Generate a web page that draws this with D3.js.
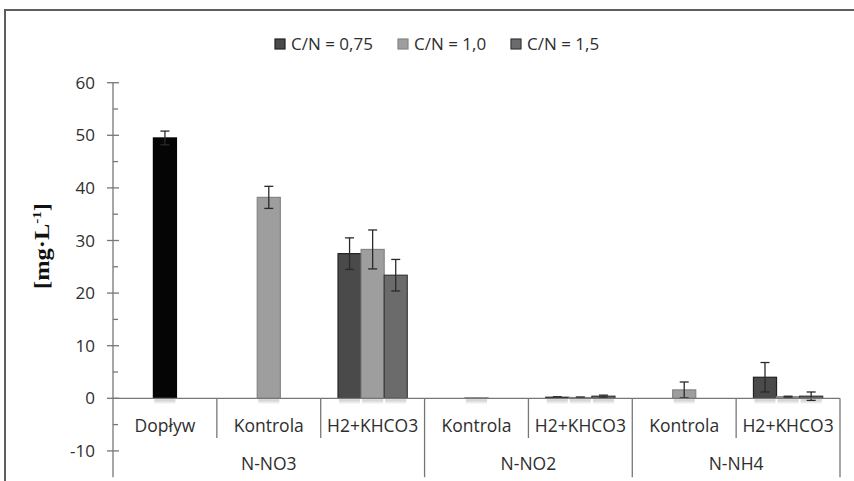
<!DOCTYPE html>
<html>
<head>
<meta charset="utf-8">
<script src="https://cdn.jsdelivr.net/npm/d3@7"></script>
<style>
  body { margin: 0; background: #fff; }
  text { font-family: "Open Sans", sans-serif; fill: #2e2e2e; }
</style>
</head>
<body>
<svg id="chart"></svg>
<script>
// data
const categories = ["Dopływ", "Kontrola", "H2+KHCO3", "Kontrola", "H2+KHCO3", "Kontrola", "H2+KHCO3"];
const groups = ["N-NO3", "N-NO2", "N-NH4"];
const groupSpans = [3, 2, 2];
const seriesNames = ["C/N = 0,75", "C/N = 1,0", "C/N = 1,5"];
const cn075 = [null, null, 27.5, null, 0.2, null, 4.0];
const cn10 = [49.5, 38.2, 28.3, 0.1, 0.15, 1.6, 0.3];
const cn15 = [null, null, 23.4, null, 0.4, null, 0.4];
const err075 = [null, null, 3.0, null, 0.1, null, 2.8];
const err10 = [1.3, 2.1, 3.7, 0, 0.1, 1.5, 0.1];
const err15 = [null, null, 3.0, null, 0.2, null, 0.8];
const yTicks = [-10, 0, 10, 20, 30, 40, 50, 60];
const yMinorTicks = [-5, 5, 15, 25, 35, 45, 55];

const width = 854;
const height = 481;
const fills = ["#4a4a4a", "#9e9e9e", "#6b6b6b"];
const strokes = ["#222222", "#858585", "#383838"];
const inflowFill = "#050505";

const svg = d3.select("#chart")
  .attr("width", width)
  .attr("height", height);

// outer frame
svg.append("rect")
  .attr("x", 5).attr("y", 10)
  .attr("width", 900).attr("height", 520)
  .attr("fill", "none")
  .attr("stroke", "#5e5e5e")
  .attr("stroke-width", 2);

// scales
const x0 = d3.scaleBand()
  .domain(d3.range(categories.length))
  .range([113, 840]);

const x1 = d3.scaleBand()
  .domain(d3.range(seriesNames.length))
  .range([0, x0.bandwidth()])
  .paddingInner(0)
  .paddingOuter(0.75);

const y = d3.scaleLinear()
  .domain([-15, 60])
  .range([477.2, 82.7]);

const seriesVals = [cn075, cn10, cn15];
const seriesErr = [err075, err10, err15];
const bars = [];
seriesVals.forEach((vals, s) => {
  vals.forEach((v, i) => {
    if (v !== null) bars.push({ s: s, i: i, v: v, e: seriesErr[s][i] });
  });
});

// soft reflection under the zero line
const refl = svg.append("defs").append("linearGradient")
  .attr("id", "refl")
  .attr("x1", 0).attr("x2", 0).attr("y1", 0).attr("y2", 1);
refl.append("stop").attr("offset", 0).attr("stop-color", "#c8c8c8");
refl.append("stop").attr("offset", 1).attr("stop-color", "#ffffff");

svg.append("g")
  .selectAll("rect")
  .data(bars)
  .join("rect")
  .attr("x", d => x0(d.i) + x1(d.s) + 1)
  .attr("y", y(0) + 1)
  .attr("width", x1.bandwidth() - 2)
  .attr("height", 5)
  .attr("fill", "url(#refl)");

// bars
svg.append("g")
  .selectAll("rect")
  .data(bars)
  .join("rect")
  .attr("x", d => x0(d.i) + x1(d.s))
  .attr("y", d => y(d.v))
  .attr("width", x1.bandwidth())
  .attr("height", d => y(0) - y(d.v))
  .attr("fill", d => d.i === 0 ? inflowFill : fills[d.s])
  .attr("stroke", d => d.i === 0 ? inflowFill : strokes[d.s])
  .attr("stroke-width", 1.2);

// error bars
const errG = svg.append("g")
  .attr("stroke", "#2a2a2a")
  .attr("stroke-width", 1.3);

const errBars = bars.filter(d => d.e > 0);
const cx = d => x0(d.i) + x1(d.s) + x1.bandwidth() / 2;

errG.selectAll(".stem")
  .data(errBars)
  .join("line")
  .attr("x1", cx).attr("x2", cx)
  .attr("y1", d => y(d.v + d.e))
  .attr("y2", d => y(d.v - d.e));

errG.selectAll(".capTop")
  .data(errBars)
  .join("line")
  .attr("x1", d => cx(d) - 4.5)
  .attr("x2", d => cx(d) + 4.5)
  .attr("y1", d => y(d.v + d.e))
  .attr("y2", d => y(d.v + d.e));

errG.selectAll(".capBottom")
  .data(errBars)
  .join("line")
  .attr("x1", d => cx(d) - 4.5)
  .attr("x2", d => cx(d) + 4.5)
  .attr("y1", d => y(d.v - d.e))
  .attr("y2", d => y(d.v - d.e));

// y axis
const axisColor = "#777777";
const yAxis = svg.append("g")
  .attr("transform", `translate(${x0.range()[0]},0)`);

yAxis.append("line")
  .attr("x1", 0).attr("x2", 0)
  .attr("y1", y(60)).attr("y2", y(-15))
  .attr("stroke", axisColor).attr("stroke-width", 1.3);

yAxis.selectAll(".major")
  .data(yTicks)
  .join("line")
  .attr("x1", -6).attr("x2", 6)
  .attr("y1", d => y(d)).attr("y2", d => y(d))
  .attr("stroke", axisColor).attr("stroke-width", 1.3);

yAxis.selectAll(".minor")
  .data(yMinorTicks)
  .join("line")
  .attr("x1", 0).attr("x2", 5)
  .attr("y1", d => y(d)).attr("y2", d => y(d))
  .attr("stroke", axisColor).attr("stroke-width", 1.3);

yAxis.selectAll("text")
  .data(yTicks)
  .join("text")
  .attr("x", -18)
  .attr("y", d => y(d))
  .attr("dy", "0.36em")
  .attr("text-anchor", "end")
  .style("font-size", "17px")
  .text(d => d);

// y axis title
svg.append("text")
  .attr("transform", `translate(49,246) rotate(-90)`)
  .attr("text-anchor", "middle")
  .attr("textLength", 86)
  .attr("lengthAdjust", "spacingAndGlyphs")
  .style("font-family", "'Liberation Serif', 'Times New Roman', serif")
  .style("font-weight", "bold")
  .style("font-size", "21px")
  .style("fill", "#111")
  .html("[mg·L<tspan dy='-8' font-size='13px'>-1</tspan><tspan dy='8'>]</tspan>");

// category axis
const xAxis = svg.append("g");
xAxis.append("line")
  .attr("x1", x0.range()[0]).attr("x2", x0.range()[1])
  .attr("y1", y(0)).attr("y2", y(0))
  .attr("stroke", axisColor).attr("stroke-width", 1.3);

// group boundaries
const groupStarts = [];
let acc = 0;
groupSpans.forEach(n => { groupStarts.push(acc); acc += n; });
const boundaryIdx = d3.range(1, categories.length + 1);
xAxis.selectAll(".divider")
  .data(boundaryIdx)
  .join("line")
  .attr("x1", d => d < categories.length ? x0(d) : x0.range()[1])
  .attr("x2", d => d < categories.length ? x0(d) : x0.range()[1])
  .attr("y1", y(0))
  .attr("y2", d => (groupStarts.includes(d) || d === categories.length) ? y(-15) : 438)
  .attr("stroke", axisColor).attr("stroke-width", 1.3);

xAxis.selectAll(".catLabel")
  .data(categories)
  .join("text")
  .attr("x", (d, i) => x0(i) + x0.bandwidth() / 2)
  .attr("y", 426)
  .attr("dy", "0.36em")
  .attr("text-anchor", "middle")
  .style("font-size", "17.5px")
  .text(d => d);

xAxis.selectAll(".groupLabel")
  .data(groups)
  .join("text")
  .attr("x", (d, g) => x0(groupStarts[g]) + groupSpans[g] * x0.bandwidth() / 2)
  .attr("y", 464)
  .attr("dy", "0.36em")
  .attr("text-anchor", "middle")
  .style("font-size", "17.5px")
  .text(d => d);

// legend
const legendX = [275, 398, 511];
const legend = svg.append("g")
  .selectAll("g")
  .data(seriesNames)
  .join("g")
  .attr("transform", (d, i) => `translate(${legendX[i]},44)`);

legend.append("rect")
  .attr("x", 0).attr("y", -5)
  .attr("width", 10).attr("height", 10)
  .attr("fill", (d, i) => fills[i])
  .attr("stroke", (d, i) => strokes[i])
  .attr("stroke-width", 1.2);

legend.append("text")
  .attr("x", 16)
  .attr("y", 0)
  .attr("dy", "0.36em")
  .style("font-size", "17px")
  .text(d => d);
</script>
</body>
</html>
